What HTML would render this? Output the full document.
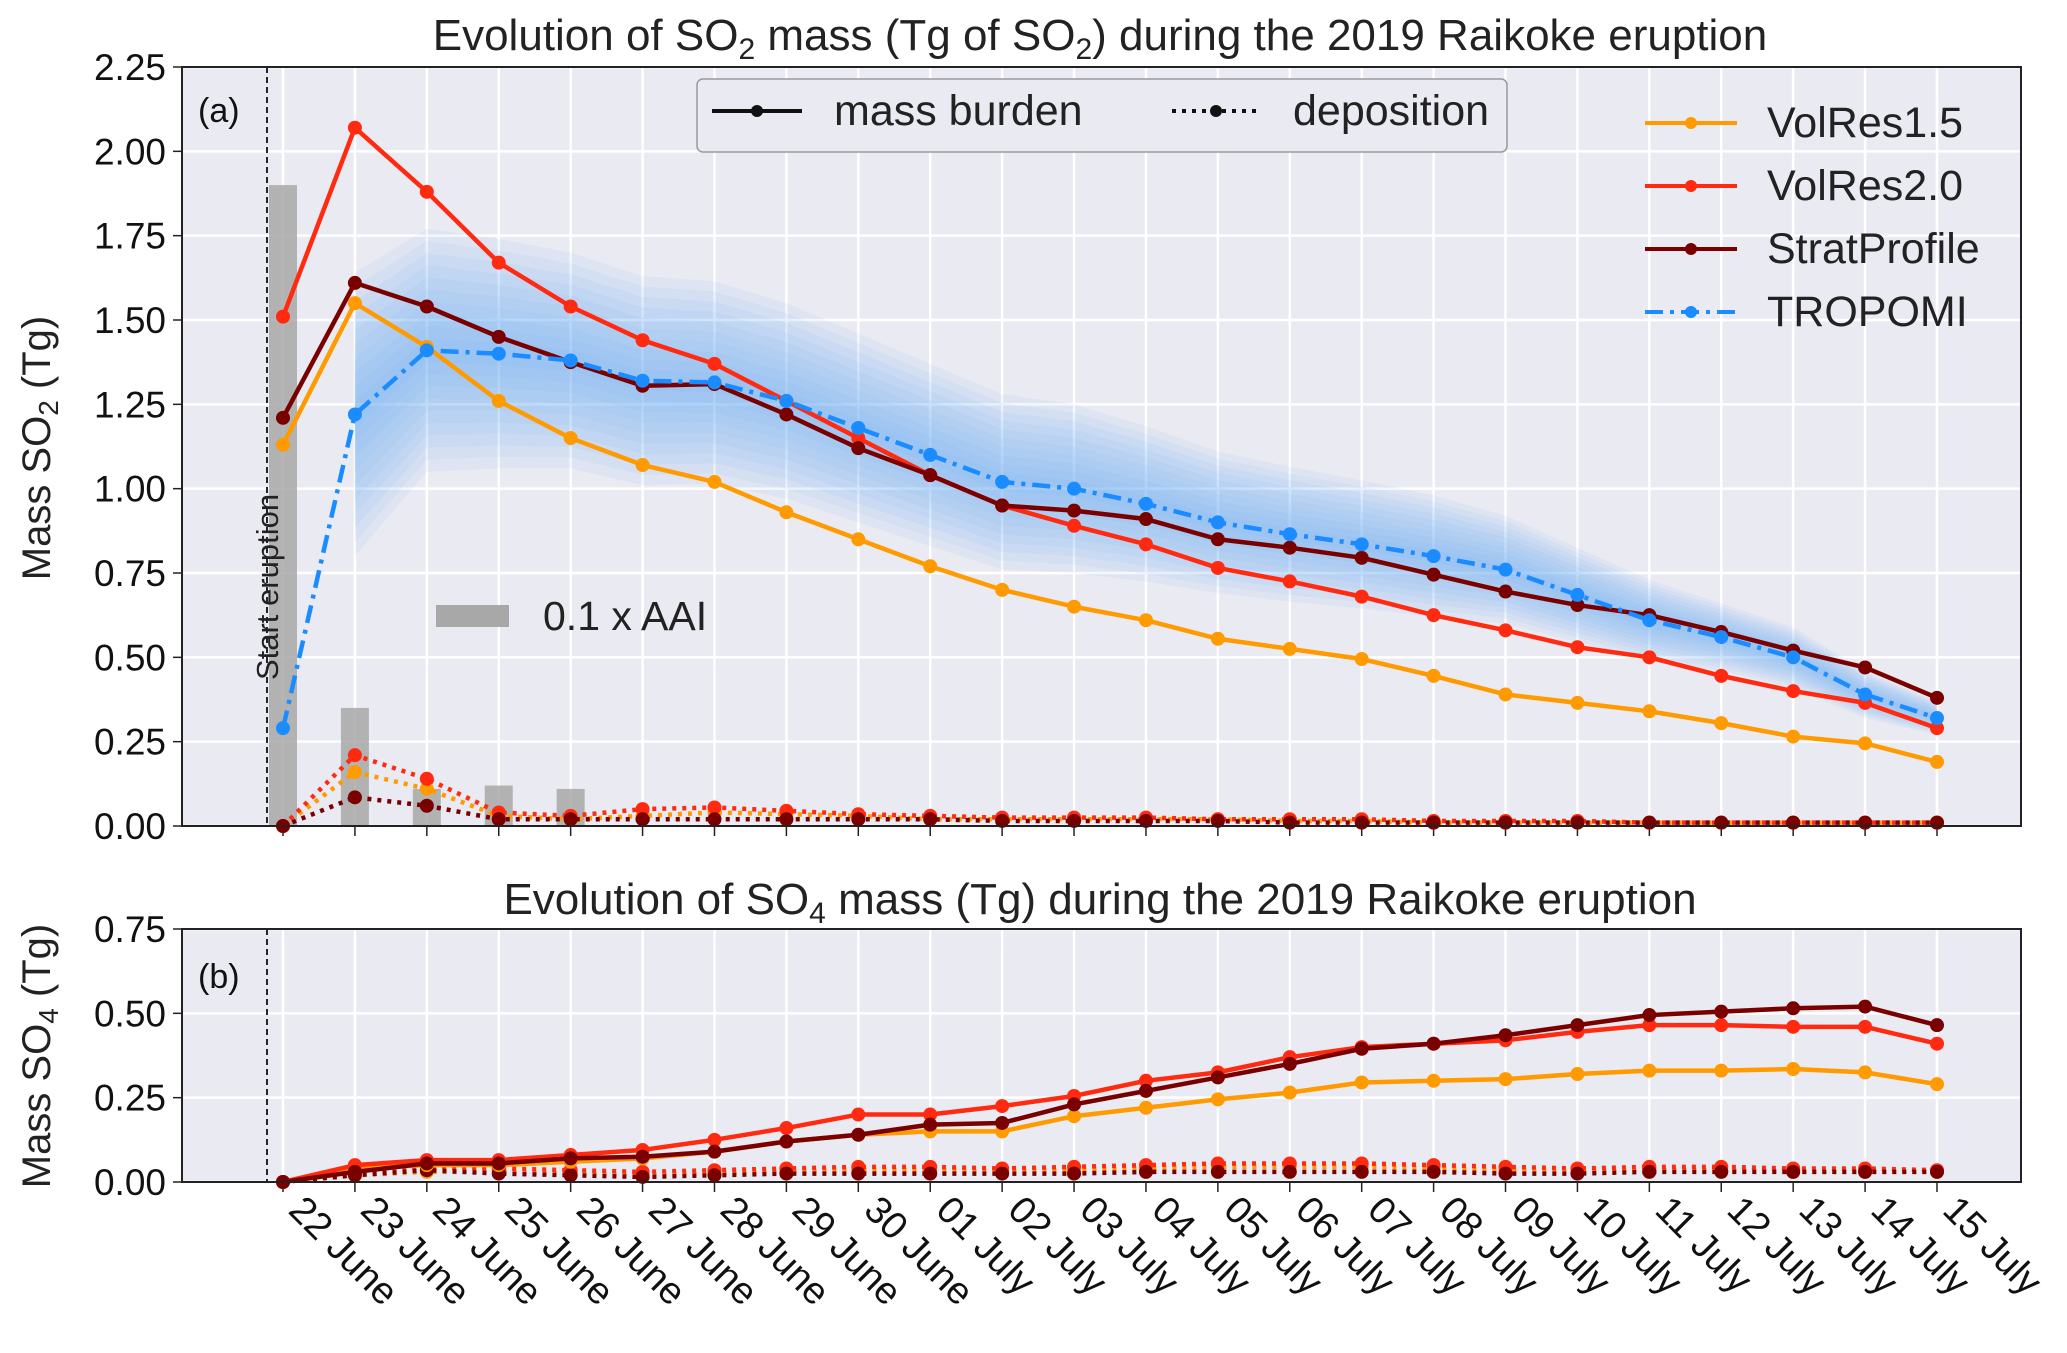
<!DOCTYPE html>
<html><head><meta charset="utf-8"><style>
body{margin:0;background:#fff;}
svg{display:block;font-family:"Liberation Sans",sans-serif;}
</style></head><body>
<svg id="chart" width="2067" height="1353" viewBox="0 0 2067 1353"></svg>
<script>
const days=["22 June","23 June","24 June","25 June","26 June","27 June","28 June","29 June","30 June","01 July","02 July","03 July","04 July","05 July","06 July","07 July","08 July","09 July","10 July","11 July","12 July","13 July","14 July","15 July"];
const so2Ticks=[0,0.25,0.5,0.75,1.0,1.25,1.5,1.75,2.0,2.25];
const so4Ticks=[0,0.25,0.5,0.75];
const so2Vol15=[1.13,1.55,1.42,1.26,1.15,1.07,1.02,0.93,0.85,0.77,0.70,0.65,0.61,0.555,0.525,0.495,0.445,0.39,0.365,0.34,0.305,0.265,0.245,0.19];
const so2Vol20=[1.51,2.07,1.88,1.67,1.54,1.44,1.37,1.26,1.15,1.04,0.95,0.89,0.835,0.765,0.725,0.68,0.625,0.58,0.53,0.50,0.445,0.40,0.365,0.29];
const so2Strat=[1.21,1.61,1.54,1.45,1.375,1.305,1.31,1.22,1.12,1.04,0.95,0.935,0.91,0.85,0.825,0.795,0.745,0.695,0.655,0.625,0.575,0.52,0.47,0.38];
const so2Tropomi=[0.29,1.22,1.41,1.40,1.38,1.32,1.315,1.26,1.18,1.10,1.02,1.00,0.955,0.90,0.865,0.835,0.80,0.76,0.685,0.61,0.56,0.50,0.39,0.32];
const tropomiErr=[0,0.42,0.36,0.34,0.32,0.31,0.3,0.29,0.28,0.27,0.26,0.25,0.23,0.21,0.2,0.19,0.18,0.16,0.14,0.12,0.1,0.09,0.07,0.05];
const depVol15=[0,0.16,0.11,0.03,0.02,0.03,0.04,0.035,0.03,0.02,0.02,0.02,0.02,0.02,0.015,0.015,0.01,0.01,0.01,0.01,0.01,0.01,0.01,0.01];
const depVol20=[0,0.21,0.14,0.04,0.03,0.05,0.055,0.045,0.035,0.03,0.025,0.025,0.025,0.02,0.02,0.02,0.015,0.015,0.015,0.01,0.01,0.01,0.01,0.01];
const depStrat=[0,0.085,0.06,0.02,0.02,0.02,0.02,0.02,0.02,0.02,0.015,0.015,0.015,0.015,0.01,0.01,0.01,0.01,0.01,0.01,0.01,0.01,0.01,0.01];
const aaiDays=[0,1,2,3,4];
const aaiVals=[1.90,0.35,0.11,0.12,0.11];
const so4Vol15=[0,0.04,0.05,0.05,0.06,0.07,0.09,0.12,0.14,0.15,0.15,0.195,0.22,0.245,0.265,0.295,0.30,0.305,0.32,0.33,0.33,0.335,0.325,0.29];
const so4Vol20=[0,0.05,0.065,0.065,0.08,0.095,0.125,0.16,0.2,0.2,0.225,0.255,0.30,0.325,0.37,0.40,0.41,0.42,0.445,0.465,0.465,0.46,0.46,0.41];
const so4Strat=[0,0.03,0.055,0.055,0.07,0.075,0.09,0.12,0.14,0.17,0.175,0.23,0.27,0.31,0.35,0.395,0.41,0.435,0.465,0.495,0.505,0.515,0.52,0.465];
const so4DepVol15=[0,0.02,0.03,0.03,0.025,0.02,0.025,0.03,0.035,0.035,0.03,0.035,0.04,0.045,0.045,0.045,0.04,0.035,0.03,0.035,0.035,0.03,0.03,0.03];
const so4DepVol20=[0,0.025,0.045,0.04,0.035,0.03,0.035,0.04,0.045,0.045,0.04,0.045,0.05,0.055,0.055,0.055,0.05,0.045,0.04,0.045,0.045,0.04,0.04,0.035];
const so4DepStrat=[0,0.02,0.035,0.025,0.02,0.015,0.02,0.025,0.025,0.025,0.025,0.025,0.03,0.03,0.03,0.03,0.03,0.025,0.025,0.03,0.03,0.03,0.03,0.03];

const NS="http://www.w3.org/2000/svg";
const svg=document.getElementById('chart');
function el(tag,attrs,parent,text){const e=document.createElementNS(NS,tag);for(const k in attrs)e.setAttribute(k,attrs[k]);if(text!==undefined)e.textContent=text;(parent||svg).appendChild(e);return e;}
const L=182,R=2021;
const X0=283,DX=(1937-283)/23;
function x(i){return X0+i*DX;}
const P1={top:67,bot:826,max:2.25};
const P2={top:929,bot:1182,max:0.75};
function y1(v){return P1.bot-(v/P1.max)*(P1.bot-P1.top);}
function y2(v){return P2.bot-(v/P2.max)*(P2.bot-P2.top);}
const C15="#ff9a00",C20="#ff2a10",CST="#7a0000",CTR="#1a8cff";

function panel(P,yf,ticks,name){
  const g=el('g',{},svg);
  
  el('rect',{x:L,y:P.top,width:R-L,height:P.bot-P.top,fill:"#eaeaf2"},g);
  ticks.forEach(t=>{const yy=yf(t);el('line',{x1:L,x2:R,y1:yy,y2:yy,stroke:"#fff","stroke-width":2.5},g);
    el('line',{x1:L-9,x2:L,y1:yy,y2:yy,stroke:"#222","stroke-width":1.5},g);
    const tl=el('text',{x:L-16,y:yy+13,"text-anchor":"end","font-size":37,fill:"#111"},g,t.toFixed(2));
    });
  days.forEach((d,i)=>{el('line',{x1:x(i),x2:x(i),y1:P.top,y2:P.bot,stroke:"#fff","stroke-width":2.5},g);
    el('line',{x1:x(i),x2:x(i),y1:P.bot,y2:P.bot+10,stroke:"#222","stroke-width":1.5},g);});
  el('line',{x1:267,x2:267,y1:P.top,y2:P.bot,stroke:"#111","stroke-width":1.8,"stroke-dasharray":"6,4"},g);
  return g;
}
function series(vals,yf,color,dash,name,lw){
  const g=el('g',{},svg);
  
  const pts=vals.map((v,i)=>x(i)+","+yf(v)).join(" ");
  const a={points:pts,fill:"none",stroke:color,"stroke-width":lw||4.5,"stroke-linejoin":"round"};
  if(dash)a["stroke-dasharray"]=dash;
  el('polyline',a,g);
  vals.forEach((v,i)=>{const c=el('circle',{cx:x(i),cy:yf(v),r:7,fill:color},g);
    });
}

panel(P1,y1,so2Ticks,'panel-a');
const band=el('g',{},svg);

[1,0.9,0.8,0.7,0.6,0.5,0.4,0.3,0.2,0.1].forEach(f=>{
  const up=[],lo=[];
  for(let i=1;i<so2Tropomi.length;i++){up.push(x(i)+","+y1(so2Tropomi[i]+tropomiErr[i]*f));lo.unshift(x(i)+","+y1(so2Tropomi[i]-tropomiErr[i]*f));}
  el('polygon',{points:up.concat(lo).join(" "),fill:"#6aaef5","fill-opacity":0.09},band);
});
aaiDays.forEach((d,k)=>{const r=el('rect',{x:x(d)-14,y:y1(aaiVals[k]),width:28,height:y1(0)-y1(aaiVals[k]),fill:"#a8a8a8","fill-opacity":0.85});
  });
series(depVol15,y1,C15,"4,6",'deposition-volres15');
series(depVol20,y1,C20,"4,6",'deposition-volres20');
series(depStrat,y1,CST,"4,6",'deposition-stratprofile');
series(so2Vol15,y1,C15,null,'volres15-so2');
series(so2Vol20,y1,C20,null,'volres20-so2');
series(so2Strat,y1,CST,null,'stratprofile-so2');
series(so2Tropomi,y1,CTR,"18,7,4,7",'tropomi-so2');
el('rect',{x:L,y:P1.top,width:R-L,height:P1.bot-P1.top,fill:"none",stroke:"#222","stroke-width":2});

panel(P2,y2,so4Ticks,'panel-b');
series(so4DepVol15,y2,C15,"4,6",'so4-deposition-volres15');
series(so4DepVol20,y2,C20,"4,6",'so4-deposition-volres20');
series(so4DepStrat,y2,CST,"4,6",'so4-deposition-stratprofile');
series(so4Vol15,y2,C15,null,'volres15-so4');
series(so4Vol20,y2,C20,null,'volres20-so4');
series(so4Strat,y2,CST,null,'stratprofile-so4');
el('rect',{x:L,y:P2.top,width:R-L,height:P2.bot-P2.top,fill:"none",stroke:"#222","stroke-width":2});

days.forEach((d,i)=>{const t=el('text',{x:0,y:0,"font-size":38,fill:"#111",transform:`translate(${x(i)+4},${1212}) rotate(45)`},svg,d);
  });
</script>
<svg style="position:absolute;left:0;top:0" width="2067" height="1353">
 <text x="1100" y="50" text-anchor="middle" font-size="44" fill="#222">Evolution of SO<tspan font-size="30" dy="9">2</tspan><tspan dy="-9"> mass (Tg of SO</tspan><tspan font-size="30" dy="9">2</tspan><tspan dy="-9">) during the 2019 Raikoke eruption</tspan></text>
 <text x="1100" y="914" text-anchor="middle" font-size="44" fill="#222">Evolution of SO<tspan font-size="30" dy="9">4</tspan><tspan dy="-9"> mass (Tg) during the 2019 Raikoke eruption</tspan></text>
 <text transform="translate(50,448) rotate(-90)" text-anchor="middle" font-size="40" fill="#222">Mass SO<tspan font-size="28" dy="8">2</tspan><tspan dy="-8"> (Tg)</tspan></text>
 <text transform="translate(50,1056) rotate(-90)" text-anchor="middle" font-size="40" fill="#222">Mass SO<tspan font-size="28" dy="8">4</tspan><tspan dy="-8"> (Tg)</tspan></text>
 <text x="198" y="122" font-size="34" fill="#111">(a)</text>
 <text x="198" y="988" font-size="34" fill="#111">(b)</text>
 <text transform="translate(278,587) rotate(-90)" text-anchor="middle" font-size="31" fill="#222">Start eruption</text>
 <g>
  <rect x="436" y="605" width="73" height="22" fill="#a8a8a8"/>
  <text x="543" y="630" font-size="41" fill="#222">0.1 x AAI</text>
 </g>
 <g>
  <rect x="697" y="79" width="810" height="73" rx="6" fill="#eaeaf2" stroke="#999" stroke-width="1.5"/>
  <line x1="712" x2="802" y1="111" y2="111" stroke="#111" stroke-width="4"/><circle cx="757" cy="111" r="6" fill="#111"/>
  <text x="834" y="125" font-size="43" fill="#222">mass burden</text>
  <line x1="1172" x2="1260" y1="111" y2="111" stroke="#111" stroke-width="4" stroke-dasharray="4,6"/><circle cx="1216" cy="111" r="6" fill="#111"/>
  <text x="1293" y="125" font-size="43" fill="#222">deposition</text>
 </g>
 <g>
  <line x1="1645" x2="1737" y1="123" y2="123" stroke="#ff9a00" stroke-width="4"/><circle cx="1691" cy="123" r="6" fill="#ff9a00"/>
  <text x="1767" y="137" font-size="43" fill="#222">VolRes1.5</text>
  <line x1="1645" x2="1737" y1="186" y2="186" stroke="#ff2a10" stroke-width="4"/><circle cx="1691" cy="186" r="6" fill="#ff2a10"/>
  <text x="1767" y="200" font-size="43" fill="#222">VolRes2.0</text>
  <line x1="1645" x2="1737" y1="249" y2="249" stroke="#7a0000" stroke-width="4"/><circle cx="1691" cy="249" r="6" fill="#7a0000"/>
  <text x="1767" y="263" font-size="43" fill="#222">StratProfile</text>
  <line x1="1645" x2="1737" y1="312" y2="312" stroke="#1a8cff" stroke-width="4" stroke-dasharray="18,7,4,7"/><circle cx="1691" cy="312" r="6" fill="#1a8cff"/>
  <text x="1767" y="326" font-size="43" fill="#222">TROPOMI</text>
 </g>
</svg>
</body></html>
